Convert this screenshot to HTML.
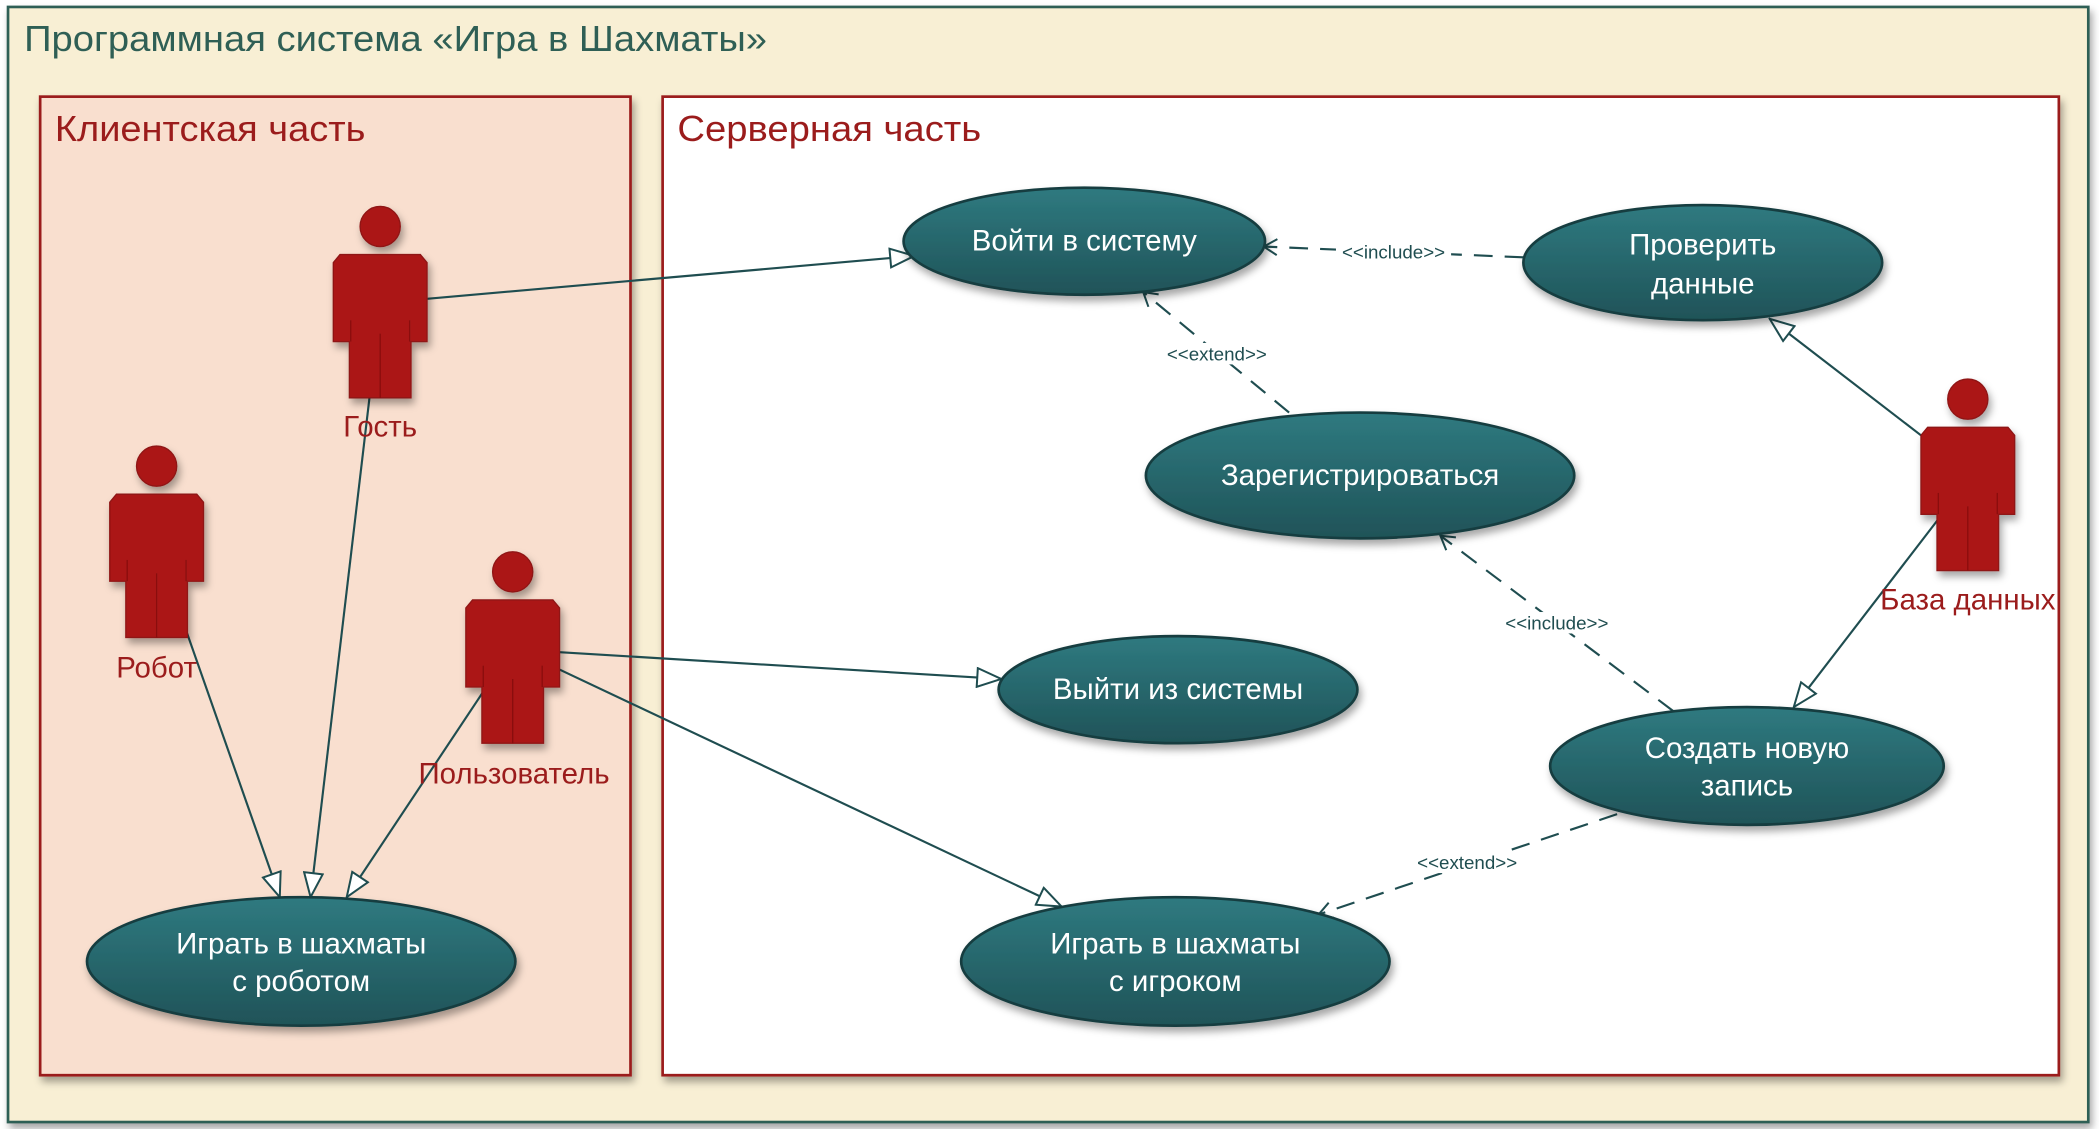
<!DOCTYPE html>
<html><head><meta charset="utf-8"><style>
html,body{margin:0;padding:0;background:#fff;}
svg{display:block;}
text{font-family:"Liberation Sans Narrow","Liberation Sans",sans-serif;}
</style></head><body>
<svg width="2099" height="1129" viewBox="0 0 1568 843" xmlns="http://www.w3.org/2000/svg">
<defs>
<linearGradient id="g" x1="0" y1="0" x2="0" y2="1"><stop offset="0" stop-color="#2f7a80"/><stop offset="1" stop-color="#1f5358"/></linearGradient>
<filter id="sh" x="-20%" y="-20%" width="140%" height="150%"><feDropShadow dx="2" dy="4" stdDeviation="3" flood-color="#000" flood-opacity="0.35"/></filter>
<marker id="tri" viewBox="0 0 20 16" refX="19" refY="8" markerWidth="20" markerHeight="16" markerUnits="userSpaceOnUse" orient="auto"><path d="M1,1 L19,8 L1,15 Z" fill="#fff" stroke="#1f4d50" stroke-width="1.5"/></marker>
<marker id="open" viewBox="0 0 12 14" refX="11" refY="7" markerWidth="12" markerHeight="14" markerUnits="userSpaceOnUse" orient="auto"><path d="M1,1 L11,7 L1,13" fill="none" stroke="#1f4d50" stroke-width="1.5"/></marker>
<g id="actor" filter="url(#sh)">
<circle cx="0" cy="0" r="15" fill="#ab1616" stroke="#8f1212" stroke-width="1"/>
<path d="M-30,21 L30,21 L35,27 L35,86 L23,86 L23,128 L-23,128 L-23,86 L-35,86 L-35,27 Z" fill="#ab1616" stroke="#8f1212" stroke-width="1"/>
<path d="M-22,70 V86 M22,70 V86 M0,80 V128" stroke="#8a1010" stroke-width="1"/>
</g>
</defs>
<rect x="6" y="5" width="1554" height="833" fill="#f8efd4" stroke="#2f5f55" stroke-width="2" filter="url(#sh)"/>
<text x="18" y="38" font-size="27" fill="#2f5f55" textLength="555" lengthAdjust="spacingAndGlyphs">Программная система «Игра в Шахматы»</text>
<rect x="30" y="72" width="441" height="731" fill="#f9dfcf" stroke="#9b1c1c" stroke-width="2" filter="url(#sh)"/>
<text x="41" y="105" font-size="27" fill="#9b1c1c" textLength="232" lengthAdjust="spacingAndGlyphs">Клиентская часть</text>
<rect x="495" y="72" width="1043" height="731" fill="#fff" stroke="#9b1c1c" stroke-width="2" filter="url(#sh)"/>
<text x="506" y="105" font-size="27" fill="#9b1c1c" textLength="227" lengthAdjust="spacingAndGlyphs">Серверная часть</text>

<g stroke="#1f4d50" stroke-width="1.6" fill="none">
<line x1="319" y1="223" x2="683" y2="191" marker-end="url(#tri)"/>
<line x1="276" y1="297" x2="232" y2="670" marker-end="url(#tri)"/>
<line x1="137" y1="465" x2="209" y2="670" marker-end="url(#tri)"/>
<line x1="362" y1="515" x2="259" y2="670" marker-end="url(#tri)"/>
<line x1="418" y1="487" x2="748" y2="507" marker-end="url(#tri)"/>
<line x1="418" y1="500" x2="793" y2="677" marker-end="url(#tri)"/>
<line x1="1435" y1="325" x2="1322" y2="238" marker-end="url(#tri)"/>
<line x1="1450" y1="385" x2="1340" y2="528" marker-end="url(#tri)"/>
<g stroke-dasharray="14,9">
<line x1="1138" y1="192" x2="944" y2="184" marker-end="url(#open)"/>
<line x1="963" y1="308" x2="854" y2="218" marker-end="url(#open)"/>
<line x1="1250" y1="531" x2="1076" y2="400" marker-end="url(#open)"/>
<line x1="1208" y1="608" x2="985" y2="683" marker-end="url(#open)"/>
</g>
</g>
<g font-size="14" fill="#1f4d50" text-anchor="middle">
<rect x="998" y="180" width="86" height="16" fill="#fff"/><text x="1041" y="193">&lt;&lt;include&gt;&gt;</text>
<rect x="868" y="256" width="82" height="16" fill="#fff"/><text x="909" y="269">&lt;&lt;extend&gt;&gt;</text>
<rect x="1120" y="457" width="86" height="16" fill="#fff"/><text x="1163" y="470">&lt;&lt;include&gt;&gt;</text>
<rect x="1055" y="636" width="82" height="16" fill="#fff"/><text x="1096" y="649">&lt;&lt;extend&gt;&gt;</text>
</g>

<use href="#actor" x="284" y="169"/>
<use href="#actor" x="117" y="348"/>
<use href="#actor" x="383" y="427"/>
<use href="#actor" x="1470" y="298"/>
<g font-size="22" fill="#9b1c1c" text-anchor="middle">
<text x="284" y="326">Гость</text>
<text x="117" y="506">Робот</text>
<text x="384" y="585">Пользователь</text>
<text x="1470" y="455">База данных</text>
</g>

<g fill="url(#g)" stroke="#163e40" stroke-width="2" filter="url(#sh)">
<ellipse cx="810" cy="180" rx="135" ry="40"/>
<ellipse cx="1272" cy="196" rx="134" ry="43"/>
<ellipse cx="1016" cy="355" rx="160" ry="47"/>
<ellipse cx="880" cy="515" rx="134" ry="40"/>
<ellipse cx="1305" cy="572" rx="147" ry="44"/>
<ellipse cx="878" cy="718" rx="160" ry="48"/>
<ellipse cx="225" cy="718" rx="160" ry="48"/>
</g>
<g font-size="22" fill="#fff" text-anchor="middle">
<text x="810" y="187">Войти в систему</text>
<text x="1272" y="190">Проверить</text><text x="1272" y="219">данные</text>
<text x="1016" y="362">Зарегистрироваться</text>
<text x="880" y="522">Выйти из системы</text>
<text x="1305" y="566">Создать новую</text><text x="1305" y="594">запись</text>
<text x="878" y="712">Играть в шахматы</text><text x="878" y="740">с игроком</text>
<text x="225" y="712">Играть в шахматы</text><text x="225" y="740">с роботом</text>
</g>
</svg>
</body></html>
